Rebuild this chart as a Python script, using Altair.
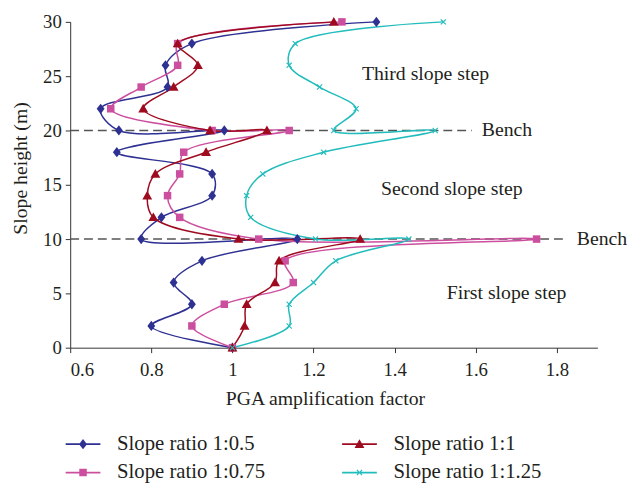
import altair as alt
import pandas as pd

# ---------------- data ----------------
heights = [0, 2, 4, 6, 8, 10, 10, 12, 14, 16, 18, 20, 20, 22, 24, 26, 28, 30]
series_names = ["Slope ratio 1:0.5", "Slope ratio 1:0.75", "Slope ratio 1:1", "Slope ratio 1:1.25"]
ratio_05 = [1.0, 0.80, 0.90, 0.855, 0.925, 1.16, 0.775, 0.825, 0.95, 0.95, 0.715, 0.98, 0.72, 0.675, 0.84, 0.835, 0.90, 1.355]
ratio_075 = [1.0, 0.90, 0.98, 1.15, 1.13, 1.75, 1.065, 0.87, 0.84, 0.87, 0.88, 1.14, 0.95, 0.70, 0.775, 0.865, 0.865, 1.27]
ratio_1 = [1.0, 1.03, 1.035, 1.105, 1.115, 1.315, 1.015, 0.805, 0.79, 0.81, 0.935, 1.085, 0.945, 0.78, 0.855, 0.915, 0.865, 1.25]
ratio_125 = [1.0, 1.14, 1.14, 1.2, 1.255, 1.435, 1.205, 1.045, 1.035, 1.075, 1.225, 1.5, 1.25, 1.305, 1.215, 1.14, 1.155, 1.52]
series_values = [ratio_05, ratio_075, ratio_1, ratio_125]

colors = ["#2e3192", "#cc4f9f", "#9e0b1f", "#22bcbc"]

x_ticks = [0.6, 0.8, 1.0, 1.2, 1.4, 1.6, 1.8]
y_ticks = [0, 5, 10, 15, 20, 25, 30]

bench_heights = [10, 20]
bench_start = [0.6, 0.6]
bench_end = [1.82, 1.59]

zone_labels = ["Third slope step", "Second slope step", "First slope step"]
zone_x = [1.476, 1.541, 1.676]
zone_y = [25.2, 14.6, 5.0]

bench_labels = ["Bench", "Bench"]
bench_label_x = [1.849, 1.615]

# marker shapes (unit square paths)
diamond = "M0,-1.3L1,0L0,1.3L-1,0Z"
triangle = "M0,-1.25L1.25,0.95L-1.25,0.95Z"
square = "M-0.95,-0.95H0.95V0.95H-0.95Z"
xmark = ("M-0.75,-0.55L-0.55,-0.75L0,-0.2L0.55,-0.75L0.75,-0.55L0.2,0L0.75,0.55"
         "L0.55,0.75L0,0.2L-0.55,0.75L-0.75,0.55L-0.2,0Z")
markers = [diamond, square, triangle, xmark]
bar = "M-4.4,-0.22H4.4V0.22H-4.4Z "
legend_paths = [bar + m for m in markers]

# ---------------- tables ----------------
rows = []
for name, vals in zip(series_names, series_values):
    for i, (h, v) in enumerate(zip(heights, vals)):
        rows.append({"series": name, "x": v, "y": h, "idx": i})
df = pd.DataFrame(rows)

bench_df = pd.DataFrame({"y": bench_heights, "x0": bench_start, "x1": bench_end})
zone_df = pd.DataFrame({"label": zone_labels, "x": zone_x, "y": zone_y})
bench_text_df = pd.DataFrame({"label": bench_labels, "x": bench_label_x, "y": bench_heights})

FONT = "Liberation Serif"
TXT = "#231f20"

xscale = alt.Scale(domain=[0.6, 1.9], nice=False, zero=False)
yscale = alt.Scale(domain=[0, 30], nice=False)
cscale = alt.Scale(domain=series_names, range=colors)

X = alt.X("x:Q", scale=xscale,
          axis=alt.Axis(values=x_ticks, format="~g", grid=False, title="PGA amplification factor",
                        tickSize=5, labelPadding=8, titleY=52, titleX=258, titleBaseline="middle"))
Y = alt.Y("y:Q", scale=yscale,
          axis=alt.Axis(values=y_ticks, grid=False, title="Slope height (m)", tickSize=5,
                        labelPadding=4, titleX=-50, titleY=148, titleBaseline="middle"))

legend_layer = alt.Chart(df).transform_filter("false").mark_point(filled=True, opacity=1, size=64).encode(
    color=alt.Color("series:N", scale=cscale,
                    legend=alt.Legend(title=None, orient="none", legendX=-11, legendY=417, columns=2,
                                      columnPadding=71, rowPadding=7, symbolSize=64, symbolOffset=13.5,
                                      labelOffset=24, labelFont=FONT, labelFontSize=21, labelColor=TXT,
                                      padding=0, symbolStrokeWidth=0)),
    shape=alt.Shape("series:N", scale=alt.Scale(domain=series_names, range=legend_paths)))

rules = alt.Chart(bench_df).mark_rule(strokeDash=[9, 5], color="#555555", strokeWidth=1.6).encode(
    x=alt.X("x0:Q", scale=xscale), x2="x1:Q", y=alt.Y("y:Q", scale=yscale))

lines = alt.Chart(df).mark_line(interpolate="catmull-rom", strokeWidth=1.5).encode(
    x=X, y=Y, order="idx:Q",
    color=alt.Color("series:N", scale=cscale, legend=None))

point_layers = []
for name, m in zip(series_names, markers):
    point_layers.append(
        alt.Chart(df).transform_filter(alt.datum.series == name)
        .mark_point(shape=m, filled=True, opacity=1, size=64)
        .encode(x=alt.X("x:Q", scale=xscale), y=alt.Y("y:Q", scale=yscale),
                color=alt.Color("series:N", scale=cscale, legend=None))
    )

zones = alt.Chart(zone_df).mark_text(font=FONT, fontSize=20, color=TXT, align="center", baseline="middle").encode(
    x=alt.X("x:Q", scale=xscale), y=alt.Y("y:Q", scale=yscale), text="label:N")
bench_text = alt.Chart(bench_text_df).mark_text(font=FONT, fontSize=20, color=TXT, align="left", baseline="middle").encode(
    x=alt.X("x:Q", scale=xscale), y=alt.Y("y:Q", scale=yscale), text="label:N")

chart = alt.layer(legend_layer, rules, lines, *point_layers, zones, bench_text).properties(
    width=534, height=330,
    autosize=alt.AutoSizeParams(type="none"),
    padding={"left": 63, "top": 11, "right": 32, "bottom": 134},
    background="white",
).configure_view(stroke=None).configure_axis(
    domainColor="#333333", tickColor="#333333", labelFont=FONT, labelFontSize=19, labelColor=TXT,
    titleFont=FONT, titleFontSize=20, titleColor=TXT, titleFontWeight="normal",
).configure_legend(
    labelFont=FONT, labelFontSize=21, labelColor=TXT,
)

chart.save("out.html", embed_options={"renderer": "svg", "actions": False})
